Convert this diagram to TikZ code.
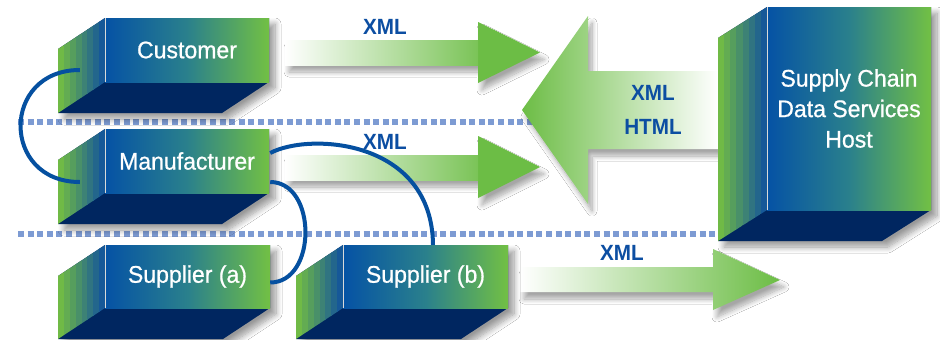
\documentclass[tikz,border=0pt]{standalone}
\usepackage{fontspec}
\setmainfont{Liberation Sans}
\newfontfamily\boxfont{Liberation Sans}[FakeBold=0.7, FakeStretch=0.96]
\newfontfamily\labelfont{Liberation Sans Bold}[FakeStretch=0.94]
\usetikzlibrary{calc,shadows.blur}

\definecolor{faceblue}{RGB}{5,82,165}
\definecolor{faceteal}{RGB}{42,128,140}
\definecolor{facegreen}{RGB}{114,192,68}
\definecolor{sidegreen}{RGB}{112,186,70}
\definecolor{sideblue}{RGB}{22,88,152}
\definecolor{basenavy}{RGB}{0,38,96}
\definecolor{arrowgreen}{RGB}{108,189,69}
\definecolor{linkblue}{RGB}{5,80,160}
\definecolor{labelblue}{RGB}{12,78,162}
\definecolor{dotblue}{RGB}{125,155,211}

\tikzset{
  frontface/.style={inner sep=0pt, text=white, align=center,
    font=\boxfont\fontsize{24}{30.5}\selectfont,
    left color=faceblue, right color=facegreen, middle color=faceteal},
  solidshadow/.style={blur shadow={shadow xshift=6pt, shadow yshift=-6pt,
    shadow blur radius=6pt, shadow opacity=40, shadow blur steps=10}},
  arrowshadow/.style={blur shadow={shadow xshift=4pt, shadow yshift=-7pt,
    shadow blur radius=5pt, shadow opacity=35, shadow blur steps=10}},
  xmllabel/.style={text=labelblue, align=center,
    font=\labelfont\fontsize{22}{34}\selectfont},
  link/.style={draw=linkblue, line width=4pt},
  dotline/.style={draw=dotblue, line width=6pt, dash pattern=on 6pt off 3.6pt},
}

% a solid block: front face node, striped side face, dark base
% #1 name, #2 centre x, #3 centre y, #4 width, #5 height, #6 depth dx, #7 text
\newcommand\solidbox[7]{%
  \coordinate (#1-nw) at ({#2-#4/2},{#3-#5/2});
  \coordinate (#1-ne) at ({#2+#4/2},{#3-#5/2});
  \coordinate (#1-se) at ({#2+#4/2},{#3+#5/2});
  \coordinate (#1-sw) at ({#2-#4/2},{#3+#5/2});
  \path[fill=basenavy, solidshadow]
    (#1-nw) -- (#1-ne) -- (#1-se) -- ($(#1-se)+({#6},31)$)
    -- ($(#1-sw)+({#6},31)$) -- ($(#1-nw)+({#6},31)$) -- cycle;
  \begin{scope}
    \clip (#1-nw) -- (#1-sw) -- ($(#1-sw)+({#6},31)$) -- ($(#1-nw)+({#6},31)$) -- cycle;
    \foreach \i in {0,...,7}{
      \pgfmathsetmacro\mixpct{100-\i*100/7}
      \fill[sidegreen!\mixpct!sideblue]
        ($(#1-nw)+({#6*(1-\i/8)},-40)$) rectangle ($(#1-sw)+({#6*(1-(\i+1)/8)+0.6},40)$);
    }
  \end{scope}
  \node[frontface, minimum width=#4, minimum height=#5] (#1) at (#2,#3) {#7};
  \draw[white!70!gray, line width=0.8pt] (#1-nw) -- (#1-sw);
}

\begin{document}
\begin{tikzpicture}[x=1pt, y=-1pt]
  \useasboundingbox (0,0) rectangle (940,340);
  \fill[white] (0,0) rectangle (940,340);

  % tier separators
  \draw[dotline] (18,122) -- (718,122);
  \draw[dotline] (18,234) -- (718,234);

  % customer to host
  \path[fill=arrowgreen, arrowshadow] (285,40) -- (478,40) -- (478,22) -- (540,52.5)
    -- (478,83) -- (478,65) -- (285,65) -- cycle;
  \shade[left color=white, right color=arrowgreen!90!white] (285,40) rectangle (478,65);

  % manufacturer to host
  \path[fill=arrowgreen, arrowshadow] (285,155) -- (478,155) -- (478,136) -- (540,167)
    -- (478,198) -- (478,180) -- (285,180) -- cycle;
  \shade[left color=white, right color=arrowgreen!90!white] (285,155) rectangle (478,180);

  % host back to the partners
  \path[arrowshadow, left color=arrowgreen, right color=white]
    (718,71) -- (588,71) -- (588,16) -- (522,110) -- (588,204) -- (588,149) -- (718,149) -- cycle;

  % suppliers to host
  \path[arrowshadow, left color=white, right color=arrowgreen]
    (520,267) -- (713,267) -- (713,249) -- (780,280) -- (713,310) -- (713,292) -- (520,292) -- cycle;

  % blocks
  \solidbox{cust}{187}{50}{164}{64}{-47}{Customer}
  \solidbox{manu}{187}{161}{164}{64}{-47}{Manufacturer}
  \solidbox{supa}{187.5}{276.5}{165}{63}{-47}{Supplier (a)}
  \solidbox{supb}{425.5}{276.5}{165}{63}{-47}{Supplier (b)}
  \solidbox{host}{849}{108.5}{164}{203}{-49}{Supply Chain\\Data Services\\Host}

  % partner links
  \draw[link] ($(cust.west)+(-25,20)$) .. controls +(-79,0) and +(-79,0) .. ($(manu.west)+(-25,21)$);
  \draw[link] ($(manu.east)+(1,21)$) .. controls +(47,0) and +(47,0) .. ($(supa.east)+(0,6)$);
  \draw[link] ($(manu.east)+(1,-8)$) .. controls +(40,-21) and +(-1,-105) .. ($(supb.north)+(7.5,0)$);

  % labels
  \node[xmllabel] (lblcust) at (385,27) {XML};
  \node[xmllabel] (lblmanu) at (385,142) {XML};
  \node[xmllabel] (lblsupp) at (622,253) {XML};
  \node[xmllabel] (lblhost) at (653,110) {XML\\HTML};
\end{tikzpicture}
\end{document}
